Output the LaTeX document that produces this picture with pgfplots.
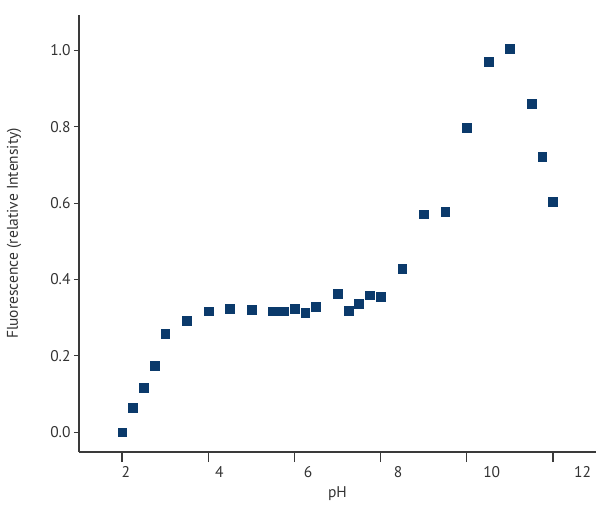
\documentclass[border=0pt]{standalone}
\usepackage{pgfplots}
\pgfplotsset{compat=1.18}
\usepackage{fontspec}
\setmainfont{PT Sans}
\definecolor{mk}{HTML}{0B3A6B}
\definecolor{ax}{HTML}{3A3A3A}
\definecolor{tx}{HTML}{333333}
\begin{document}
\begin{tikzpicture}
\begin{axis}[
  at={(0,0)}, anchor=south west,
  scale only axis, width=517bp, height=437bp,
  xmin=1, xmax=13, ymin=-0.052, ymax=1.093,
  axis x line*=bottom, axis y line*=left,
  axis line style={ax, line width=1.3bp, -},
  tick style={ax, line width=1.3bp},
  tick align=outside,
  major tick length=5bp,
  xtick={2.088,4.26,6.318,8.406,10.58,12.69},
  xticklabels={2,4,6,8,10,12},
  xtick style={draw=none},
  extra x ticks={2,4,6,8,10,12},
  extra x tick labels={},
  extra x tick style={major tick length=10bp, tick align=outside, xtick style={draw=ax, line width=1.3bp}},
  ytick={0,0.2,...,1.0},
  yticklabel style={/pgf/number format/.cd, fixed, fixed zerofill, precision=1, assume math mode=true},
  ticklabel style={font=\fontsize{15.5bp}{17bp}\selectfont, text=tx},
  xticklabel style={yshift=-6bp},
  label style={font=\fontsize{15.5bp}{17bp}\selectfont, text=tx},
  xlabel={pH},
  ylabel={Fluorescence (relative Intensity)},
  xlabel style={at={(axis description cs:0.5,0)}, anchor=center, yshift=-42bp},
  ylabel style={at={(axis description cs:-0.1257,0.5)}, anchor=center},
  clip=false,
]
\addplot[only marks, mark=square*, mark size=4.4bp, mark options={draw=mk, line width=0.3bp, fill=mk}] coordinates {
(2.0,0.0) (2.25,0.064) (2.5,0.117) (2.75,0.175) (3.0,0.259) (3.5,0.292)
(4.0,0.317) (4.5,0.323) (5.0,0.320) (5.5,0.317) (5.62,0.317) (5.75,0.317)
(6.0,0.323) (6.25,0.314) (6.5,0.328) (7.0,0.362) (7.25,0.318) (7.5,0.336)
(7.75,0.359) (8.0,0.354) (8.5,0.428) (9.0,0.571) (9.5,0.577) (10.0,0.797)
(10.5,0.970) (11.0,1.004) (11.5,0.860) (11.75,0.721) (12.0,0.604)
};
\end{axis}
\pgfresetboundingbox
\path[use as bounding box] (-79bp,-58bp) rectangle (521bp,452bp);
\end{tikzpicture}
\end{document}
